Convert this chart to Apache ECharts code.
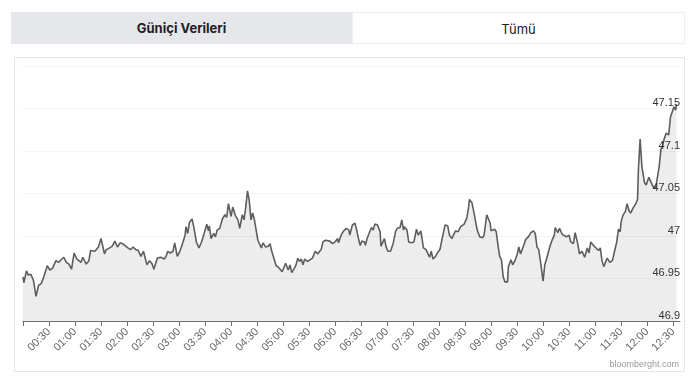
<!DOCTYPE html>
<html>
<head>
<meta charset="utf-8">
<script src="https://cdn.jsdelivr.net/npm/echarts@6/dist/echarts.min.js"></script>
<style>
  html, body { margin: 0; padding: 0; width: 696px; height: 384px; background: #fff; overflow: hidden; }
  .tab { position: absolute; top: 12px; height: 32px; line-height: 32px; text-align: center; font-family: Inter, "Open Sans", sans-serif; font-size: 13px; color: #222; box-sizing: border-box; }
  #tab1 { left: 11px; width: 341px; background: #e6e7ea; font-weight: 700; }
  #tab2 { left: 352px; width: 333px; background: #fff; border: 1px solid #eceef0; font-weight: 400; }
  #box { position: absolute; left: 14px; top: 57px; width: 671px; height: 315px; border: 1px solid #e6e6e6; box-sizing: border-box; }
  #chart { position: absolute; left: 0; top: 0; width: 696px; height: 384px; }
</style>
</head>
<body>
<div class="tab" id="tab1">Güniçi Verileri</div>
<div class="tab" id="tab2">Tümü</div>
<div id="box"></div>
<div id="chart"></div>
<script>
// minutes since 00:00
const times = [
  0,1,4,6,9,12,15,18,21,24,
  28,31,34,36,38,41,44,47,50,53,
  56,59,62,64,67,69,73,76,78,83,
  87,90,94,96,100,103,106,109,112,115,
  121,124,127,130,133,136,139,141,143,146,
  149,151,155,159,163,165,167,170,173,175,
  178,181,184,187,188,190,192,195,197,200,
  203,206,209,212,214,215,217,220,222,224,
  227,230,233,235,237,240,242,245,248,250,
  253,255,257,259,261,263,265,267,269,271,
  273,275,277,280,283,285,287,290,292,295,
  297,299,301,303,306,308,310,313,315,317,
  319,321,323,325,328,331,334,336,337,340,
  344,346,349,351,354,357,360,363,364,367,
  370,373,376,377,380,383,385,387,389,391,
  394,395,397,400,402,404,406,409,412,413,
  417,419,421,424,427,430,432,435,437,439,
  440,443,445,448,451,454,456,459,462,464,
  465,467,469,471,473,476,478,481,484,487,
  490,492,495,497,499,502,505,509,512,514,
  515,518,520,522,524,527,530,532,535,537,
  539,540,544,546,548,550,552,554,556,559,
  560,563,565,568,570,572,574,577,580,583,
  586,589,591,593,595,597,600,602,604,606,
  608,610,613,614,617,619,622,624,627,630,
  632,635,637,640,642,645,648,651,653,655,
  658,660,664,666,668,670,672,674,677,680,
  682,685,687,689,690,692,695,697,699,701,
  704,707,709,710,712,714,717,719,722,724,
  727,730,732,734,736,738,740,742,745,747,
  749,751,753,754
];
const values = [
  46.952,46.945,46.959,46.954,46.955,46.948,46.929,46.942,46.944,46.952,
  46.965,46.960,46.962,46.960,46.971,46.969,46.972,46.975,46.969,46.967,
  46.961,46.980,46.973,46.974,46.969,46.975,46.967,46.971,46.983,46.982,
  46.987,46.997,46.979,46.984,46.986,46.988,46.994,46.987,46.992,46.991,
  46.986,46.984,46.987,46.984,46.983,46.976,46.982,46.984,46.966,46.971,
  46.967,46.961,46.974,46.975,46.973,46.976,46.982,46.980,46.982,46.992,
  46.976,46.982,46.991,47.001,47.011,47.003,47.016,47.020,47.011,46.993,
  46.986,46.993,47.003,47.014,47.006,47.012,46.997,47.003,46.999,47.007,
  47.009,47.020,47.025,47.022,47.038,47.023,47.034,47.024,47.019,47.009,
  47.025,47.019,47.034,47.053,47.042,47.019,47.027,47.019,47.007,46.995,
  46.997,46.986,46.992,46.987,46.988,46.991,46.982,46.972,46.965,46.963,
  46.963,46.958,46.963,46.968,46.960,46.966,46.957,46.962,46.966,46.974,
  46.970,46.973,46.966,46.973,46.970,46.972,46.974,46.975,46.982,46.979,
  46.984,46.993,46.995,46.993,46.994,46.991,46.993,46.997,46.992,47.001,
  47.006,47.009,47.007,47.001,47.013,47.015,47.007,46.997,46.989,46.994,
  46.993,46.989,46.997,47.005,47.010,47.007,47.014,47.013,47.005,46.988,
  46.997,46.987,46.982,46.982,46.991,47.006,47.009,47.010,47.019,47.007,
  47.011,47.007,46.993,46.992,46.993,47.008,47.001,47.006,46.986,46.987,
  46.984,46.986,46.975,46.982,46.973,46.976,46.980,46.984,46.999,47.013,
  47.012,47.001,46.997,47.002,47.006,47.005,47.011,47.014,47.021,47.033,
  47.043,47.039,47.029,47.027,47.007,46.999,46.998,47.001,47.025,47.027,
  47.015,47.006,47.008,47.005,46.989,46.976,46.972,46.952,46.946,46.946,
  46.964,46.972,46.966,46.972,46.978,46.987,46.979,46.987,46.996,46.999,
  47.004,47.006,47.003,46.987,46.984,46.970,46.947,46.966,46.973,46.974,
  46.988,46.994,47.001,47.010,47.004,47.009,47.002,47.003,46.999,47.001,
  46.993,46.991,47.004,46.991,46.979,46.982,46.975,46.986,46.980,46.993,
  46.989,46.987,46.983,46.986,46.971,46.964,46.963,46.974,46.969,46.971,
  46.980,46.993,47.008,47.005,47.016,47.024,47.029,47.038,47.030,47.027,
  47.033,47.038,47.043,47.078,47.114,47.082,47.063,47.060,47.069,47.070,
  47.058,47.057,47.055,47.082,47.102,47.107,47.115,47.121,47.119,47.140,
  47.146,47.152,47.148,47.155
];
// tick positions (minutes) and labelled ticks
const tickMinutes = [0,30,60,90,120,150,180,210,240,270,300,330,360,390,420,450,480,510,540,570,600,630,660,690,720,750];
const labelMinutes = [30,60,90,120,150,180,210,240,270,300,330,360,390,420,450,480,510,540,570,600,630,660,690,720,750];
const yMin = 46.9, yMax = 47.2, yStep = 0.05;
const xMax = 758;

function fmt(m) {
  const h = Math.floor(m / 60), mm = m % 60;
  return String(h).padStart(2, '0') + ':' + String(mm).padStart(2, '0');
}

const chart = echarts.init(document.getElementById('chart'));
chart.setOption({
  animation: false,
  grid: { left: 23, right: 16, top: 66, bottom: 63, containLabel: false },
  xAxis: {
    type: 'value', min: 0, max: xMax, z: 10,
    splitLine: { show: false },
    axisLine: { show: true, lineStyle: { color: '#707070', width: 1 } },
    axisTick: { show: true, customValues: tickMinutes, length: 5, lineStyle: { color: '#707070' } },
    axisLabel: {
      customValues: labelMinutes, rotate: 45, margin: 9,
      color: '#666', fontSize: 11, fontFamily: '"Liberation Sans", Arial, sans-serif',
      formatter: v => fmt(v)
    }
  },
  yAxis: {
    type: 'value', position: 'right', min: yMin, max: yMax, interval: yStep, z: 10,
    axisLine: { show: false }, axisTick: { show: false },
    splitLine: { show: true, lineStyle: { color: 'rgba(0,0,0,0.045)', width: 1 } },
    axisLabel: {
      inside: true, margin: 0, showMaxLabel: false, verticalAlign: 'bottom',
      color: '#333', fontSize: 11, fontFamily: '"Liberation Sans", Arial, sans-serif'
    }
  },
  graphic: [{
    type: 'text', right: 17, top: 360,
    style: { text: 'bloomberght.com', fill: '#999', fontSize: 9, fontFamily: '"Liberation Sans", Arial, sans-serif' }
  }],
  series: [{
    type: 'line', showSymbol: false, smooth: false, z: 2,
    data: times.map((t, i) => [t, values[i]]),
    lineStyle: { color: '#5e5e5e', width: 1.6 },
    areaStyle: { color: '#ededed', opacity: 1, origin: 'start' }
  }]
});
</script>
</body>
</html>
